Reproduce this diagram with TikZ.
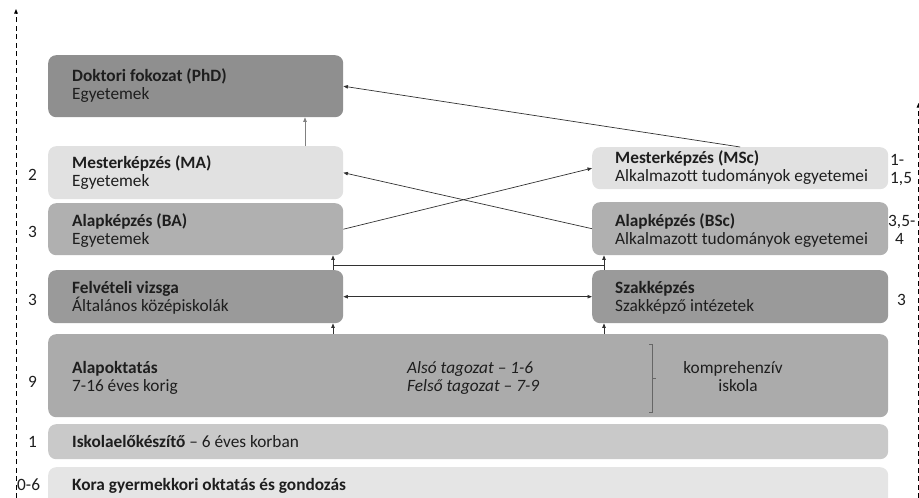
\documentclass[tikz,border=0pt]{standalone}
\usepackage{fontspec}
\setmainfont{Carlito}[Ligatures=NoCommon]
\usetikzlibrary{arrows.meta}
\definecolor{cphd}{RGB}{143,143,143}
\definecolor{clight}{RGB}{225,225,225}
\definecolor{cmid}{RGB}{176,176,176}
\definecolor{cdark}{RGB}{154,154,154}
\definecolor{calap}{RGB}{171,171,171}
\definecolor{cisk}{RGB}{201,201,201}
\definecolor{ckora}{RGB}{229,229,229}
\definecolor{ctext}{RGB}{30,30,30}
\definecolor{cline}{RGB}{50,50,50}
\begin{document}
\begin{tikzpicture}[x=1pt,y=-1pt,
  box/.style={draw=none, rounded corners=8pt, anchor=north west, inner sep=0pt},
  txt/.style={anchor=base west, inner sep=0pt, text=ctext, font=\fontsize{17.3}{18}\selectfont},
  txtc/.style={anchor=base, inner sep=0pt, text=ctext, font=\fontsize{17.3}{18}\selectfont},
  arr/.style={-{Triangle[length=4.5pt,width=3.5pt]}, draw=cline, line width=0.7pt},
  darr/.style={{Triangle[length=4.5pt,width=3.5pt]}-{Triangle[length=4.5pt,width=3.5pt]}, draw=cline, line width=0.7pt},
  plain/.style={draw=cline, line width=0.7pt},
  dashln/.style={-{Triangle[length=4.5pt,width=3.5pt]}, draw=black, line width=0.9pt, dash pattern=on 5pt off 3.5pt}
]
\useasboundingbox (0,0) rectangle (919,498);

% boxes
\node[box, fill=cphd, minimum width=295pt, minimum height=62pt] (phd) at (48,55) {};
\node[box, fill=clight, minimum width=295pt, minimum height=53pt] (ma) at (48,146) {};
\node[box, fill=cmid, minimum width=295pt, minimum height=52pt] (ba) at (48,203) {};
\node[box, fill=cdark, minimum width=295pt, minimum height=53pt] (felv) at (48,270) {};
\node[box, fill=clight, minimum width=296pt, minimum height=42pt] (msc) at (592,147) {};
\node[box, fill=cmid, minimum width=296pt, minimum height=53pt] (bsc) at (592,202) {};
\node[box, fill=cdark, minimum width=296pt, minimum height=53pt] (szak) at (592,270) {};
\node[box, fill=calap, minimum width=840pt, minimum height=83pt] (alap) at (48,334) {};
\node[box, fill=cisk, minimum width=840pt, minimum height=35pt] (isk) at (48,424) {};
\node[box, fill=ckora, minimum width=840pt, minimum height=42pt] (kora) at (48,467) {};

% box texts
\node[txt] (phd1) at (72,81) {\textbf{Doktori fokozat (PhD)}};
\node[txt] (phd2) at (72,99) {Egyetemek};
\node[txt] (ma1) at (72,168) {\textbf{Mesterképzés (MA)}};
\node[txt] (ma2) at (72,186) {Egyetemek};
\node[txt] (ba1) at (72,226) {\textbf{Alapképzés (BA)}};
\node[txt] (ba2) at (72,244) {Egyetemek};
\node[txt] (fe1) at (72,293) {\textbf{Felvételi vizsga}};
\node[txt] (fe2) at (72,311) {Általános középiskolák};
\node[txt] (ms1) at (615,163) {\textbf{Mesterképzés (MSc)}};
\node[txt] (ms2) at (615,181) {Alkalmazott tudományok egyetemei};
\node[txt] (bs1) at (615,226) {\textbf{Alapképzés (BSc)}};
\node[txt] (bs2) at (615,244) {Alkalmazott tudományok egyetemei};
\node[txt] (sz1) at (615,293) {\textbf{Szakképzés}};
\node[txt] (sz2) at (615,311) {Szakképző intézetek};
\node[txt] (al1) at (72,373) {\textbf{Alapoktatás}};
\node[txt] (al2) at (72,391) {7-16 éves korig};
\node[txt] (al3) at (407,373) {\itshape Alsó tagozat – 1-6};
\node[txt] (al4) at (407,391) {\itshape Felső tagozat – 7-9};
\node[txtc] (al5) at (733,373) {komprehenzív};
\node[txtc] (al6) at (738,391) {iskola};
\node[txt] (is1) at (72,447) {\textbf{Iskolaelőkészítő} – 6 éves korban};
\node[txt] (ko1) at (72,490) {\textbf{Kora gyermekkori oktatás és gondozás}};

% bracket
\draw[draw=gray!80!black, line width=0.6pt] (649,344) -- (652,344) -- (652,412) -- (649,412);
\draw[draw=gray!80!black, line width=0.6pt] (652,378) -- (656,378);

% year numbers
\node[txt] (nl1) at (28,180) {2};
\node[txt] (nl2) at (28,237) {3};
\node[txt] (nl3) at (28,305) {3};
\node[txt] (nl4) at (28,387) {9};
\node[txt] (nl5) at (28,447) {1};
\node[txt] (nl6) at (17,490) {0-6};
\node[txt] (nr1) at (890,165) {1-};
\node[txt] (nr2) at (890,183) {1,5};
\node[txt] (nr3) at (888,226) {3,5-};
\node[txt] (nr4) at (895,244) {4};
\node[txt] (nr5) at (897,305) {3};

% axis lines
\coordinate (dl0) at (16,498);
\coordinate (dl1) at (16,9);
\draw[dashln] (dl0) -- (dl1);
\coordinate (dr0) at (918.5,498);
\coordinate (dr1) at (918.5,103);
\draw[dashln] (dr0) -- (dr1);

% connectors
\coordinate (xA) at (305,0);
\coordinate (xL) at (333,0);
\coordinate (xR) at (604,0);
\coordinate (yH) at (0,265.5);
\draw[arr, draw=gray] (ma.north -| xA) -- (phd.south -| xA);
\draw[arr] (msc.north) -- (phd.east);
\draw[arr] (bsc.west) -- (ma.east);
\draw[arr] (ba.east) -- (msc.west);
\draw[arr] (felv.north -| xL) -- (ba.south -| xL);
\draw[arr] (szak.north -| xR) -- (bsc.south -| xR);
\draw[plain] (xL |- yH) -- (xR |- yH);
\draw[darr] (felv.east) -- (szak.west);
\draw[arr] (alap.north -| xL) -- (felv.south -| xL);
\draw[arr] (alap.north -| xR) -- (szak.south -| xR);
\end{tikzpicture}
\end{document}
